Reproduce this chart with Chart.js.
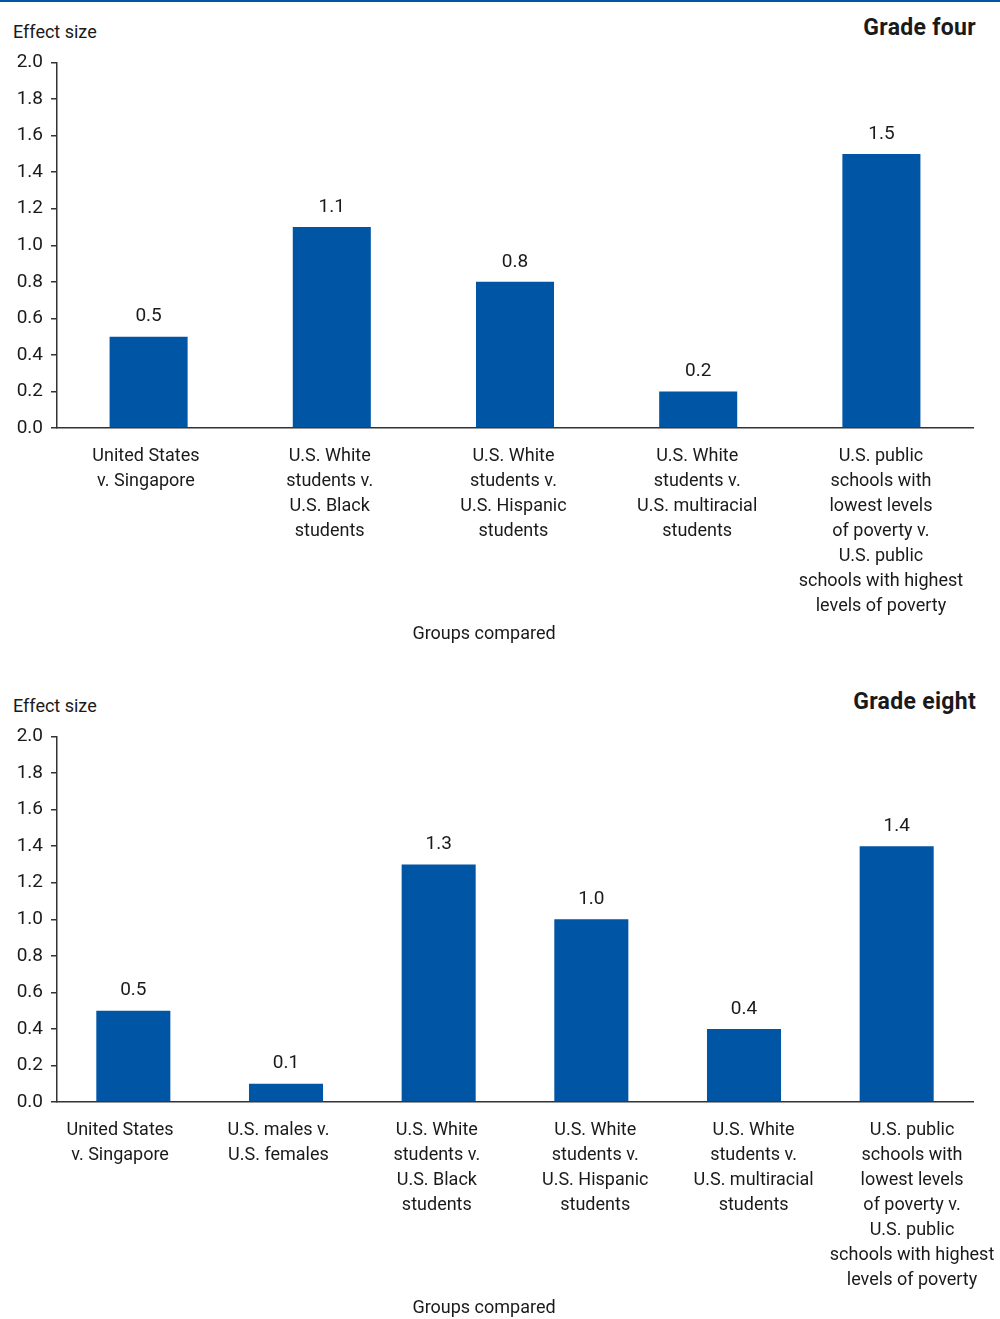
<!DOCTYPE html>
<html>
<head>
<meta charset="utf-8">
<script src="https://cdn.jsdelivr.net/npm/chart.js@4/dist/chart.umd.min.js"></script>
<style>
  body { margin: 0; background: #fff; width: 1000px; height: 1319px; position: relative; font-family: Roboto, "Liberation Sans", sans-serif; color: #1a1a1a; }
  .rule { position: absolute; left: 0; top: 0; width: 1000px; height: 2px; background: #0055a5; }
  .ylab { position: absolute; left: 13px; font-size: 18px; line-height: 22px; }
  .grade { position: absolute; right: 24px; font-size: 23px; font-weight: bold; line-height: 26px; letter-spacing: 0.3px; }
  .box { position: absolute; left: 0; width: 1000px; height: 600px; }
</style>
</head>
<body>
<div class="rule"></div>
<div class="ylab" style="top:21px">Effect size</div>
<div class="grade" style="top:15px">Grade four</div>
<div class="box" style="top:50px"><canvas id="gradeFour"></canvas></div>
<div class="ylab" style="top:695px">Effect size</div>
<div class="grade" style="top:689px">Grade eight</div>
<div class="box" style="top:724px"><canvas id="gradeEight"></canvas></div>
<script>
// Grade four data
const fourLabels = [
    ['United States', 'v. Singapore'],
    ['U.S. White', 'students v.', 'U.S. Black', 'students'],
    ['U.S. White', 'students v.', 'U.S. Hispanic', 'students'],
    ['U.S. White', 'students v.', 'U.S. multiracial', 'students'],
    ['U.S. public', 'schools with', 'lowest levels', 'of poverty v.', 'U.S. public', 'schools with highest', 'levels of poverty']
];
const fourValues = [0.5, 1.1, 0.8, 0.2, 1.5];

// Grade eight data
const eightLabels = [
    ['United States', 'v. Singapore'],
    ['U.S. males v.', 'U.S. females'],
    ['U.S. White', 'students v.', 'U.S. Black', 'students'],
    ['U.S. White', 'students v.', 'U.S. Hispanic', 'students'],
    ['U.S. White', 'students v.', 'U.S. multiracial', 'students'],
    ['U.S. public', 'schools with', 'lowest levels', 'of poverty v.', 'U.S. public', 'schools with highest', 'levels of poverty']
];
const eightValues = [0.5, 0.1, 1.3, 1.0, 0.4, 1.4];

const yTicks = [0, 0.2, 0.4, 0.6, 0.8, 1.0, 1.2, 1.4, 1.6, 1.8, 2.0];
const xTitle = 'Groups compared';

const barBlue = '#0055a5';
const textColor = '#1a1a1a';
const fontFamily = 'Roboto, "Liberation Sans", sans-serif';

// draws the value above each bar, plus the x axis title
const valueLabels = {
    id: 'valueLabels',
    afterDatasetsDraw(chart) {
        const ctx = chart.ctx;
        ctx.save();
        ctx.font = '19px ' + fontFamily;
        ctx.fillStyle = textColor;
        ctx.textAlign = 'center';
        ctx.textBaseline = 'middle';
        chart.getDatasetMeta(0).data.forEach((bar, i) => {
            const v = chart.data.datasets[0].data[i];
            ctx.fillText(v.toFixed(1), bar.x, bar.y - 20);
        });
        ctx.font = '18px ' + fontFamily;
        ctx.fillText(xTitle, 484, chart.height - 16);
        ctx.restore();
    }
};

// labelMin/labelMax place the group labels the way the original does
// (in grade eight they drift a little from the bar centres)
function makeChart(id, labels, values, barPct, labelMin, labelMax) {
    const ctx = document.getElementById(id).getContext('2d');
    return new Chart(ctx, {
        type: 'bar',
        data: {
            labels: labels,
            datasets: [{
                data: values,
                backgroundColor: barBlue,
                borderWidth: 0,
                barPercentage: barPct,
                categoryPercentage: 1
            }]
        },
        options: {
            responsive: true,
            maintainAspectRatio: false,
            animation: false,
            layout: {
                padding: { top: 12.5, right: 27, left: 0, bottom: 0 }
            },
            scales: {
                y: {
                    min: 0,
                    max: 2,
                    afterBuildTicks: (scale) => { scale.ticks = yTicks.map(v => ({ value: v })); },
                    afterFit: (scale) => {
                        scale.width = 57;
                        scale.paddingTop = 0;
                        scale.paddingBottom = 0;
                    },
                    grid: { drawOnChartArea: false, tickLength: 6, color: '#333', lineWidth: 1.5 },
                    border: { color: '#333', width: 1.5 },
                    ticks: {
                        padding: 8,
                        color: textColor,
                        font: { size: 19, family: fontFamily },
                        callback: (v) => Number(v).toFixed(1)
                    }
                },
                x: {
                    weight: 0,
                    afterFit: (scale) => { scale.height = 0; },
                    grid: { display: false },
                    border: { color: '#333', width: 1.5 },
                    ticks: { display: false }
                },
                groups: {
                    type: 'linear',
                    position: 'bottom',
                    weight: 1,
                    offset: false,
                    bounds: 'data',
                    min: labelMin,
                    max: labelMax,
                    afterBuildTicks: (scale) => { scale.ticks = labels.map((_, i) => ({ value: i })); },
                    afterFit: (scale) => {
                        scale.height = 222;
                        scale.paddingLeft = 0;
                        scale.paddingRight = 0;
                    },
                    grid: { display: false, offset: false },
                    border: { display: false },
                    ticks: {
                        padding: 8,
                        maxRotation: 0,
                        autoSkip: false,
                        color: textColor,
                        font: { size: 18, family: fontFamily, lineHeight: 1.39 },
                        callback: (v, i) => labels[i]
                    }
                }
            },
            plugins: {
                legend: { display: false },
                tooltip: { enabled: false }
            }
        },
        plugins: [valueLabels]
    });
}

const fourChart = makeChart('gradeFour', fourLabels, fourValues, 0.426, -0.484, 4.501);
const eightChart = makeChart('gradeEight', eightLabels, eightValues, 0.485, -0.398, 5.385);
</script>
</body>
</html>
